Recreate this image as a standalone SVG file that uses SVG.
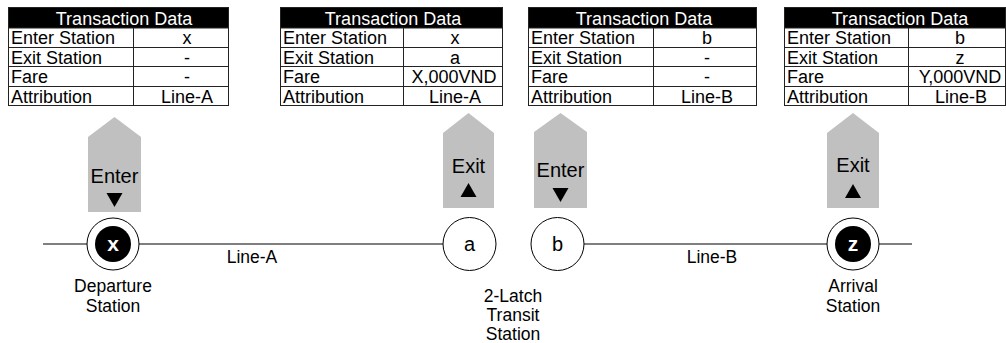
<svg xmlns="http://www.w3.org/2000/svg" width="1006" height="343" viewBox="0 0 1006 343">
  <style>
    text { font-family: "Liberation Sans", Arial, sans-serif; fill: #000; }
    .cell { fill: #fff; stroke: #222; stroke-width: 1; }
    .head { fill: #000; stroke: #222; stroke-width: 1; }
    .grid { stroke: #222; stroke-width: 1; }
    .th { font-size: 18px; fill: #fff; text-anchor: middle; }
    .tl { font-size: 18px; }
    .tv { font-size: 18px; text-anchor: middle; }
    .arrow { fill: #c0c0c0; }
    .alabel { font-size: 20px; text-anchor: middle; }
    .tri { fill: #000; }
    .track { stroke: #000; stroke-width: 1; fill: none; }
    .ring { fill: #fff; stroke: #000; stroke-width: 1; }
    .core { fill: #000; }
    .stn { font-size: 20px; text-anchor: middle; }
    .stn-w { font-size: 21px; text-anchor: middle; fill: #fff; font-weight: bold; }
    .lbl { font-size: 17.5px; text-anchor: middle; }
  </style>

  <!-- rail lines -->
  <g id="connectors">
    <line class="track" x1="43" y1="244" x2="444" y2="244"/>
    <line class="track" x1="584" y1="244" x2="912" y2="244"/>
  </g>

  <!-- transaction tables -->
  <g id="table-1">
    <rect class="cell" x="8.5" y="7.5" width="220" height="98"/>
    <rect class="head" x="8.5" y="7.5" width="220" height="20.5"/>
    <line class="grid" x1="8.5" y1="47.5" x2="228.5" y2="47.5"/>
    <line class="grid" x1="8.5" y1="66.5" x2="228.5" y2="66.5"/>
    <line class="grid" x1="8.5" y1="86.5" x2="228.5" y2="86.5"/>
    <line class="grid" x1="133.5" y1="28" x2="133.5" y2="105.5"/>
    <text class="th" x="124" y="25">Transaction Data</text>
    <text class="tl" x="11" y="44">Enter Station</text>
    <text class="tl" x="11" y="63.5">Exit Station</text>
    <text class="tl" x="11" y="83">Fare</text>
    <text class="tl" x="11" y="102.5">Attribution</text>
    <text class="tv" x="187" y="44">x</text>
    <text class="tv" x="187" y="63.5">-</text>
    <text class="tv" x="187" y="83">-</text>
    <text class="tv" x="187" y="102.5">Line-A</text>
  </g>

  <g id="table-2">
    <rect class="cell" x="280.5" y="7.5" width="222" height="98"/>
    <rect class="head" x="280.5" y="7.5" width="222" height="20.5"/>
    <line class="grid" x1="280.5" y1="47.5" x2="502.5" y2="47.5"/>
    <line class="grid" x1="280.5" y1="66.5" x2="502.5" y2="66.5"/>
    <line class="grid" x1="280.5" y1="86.5" x2="502.5" y2="86.5"/>
    <line class="grid" x1="403.5" y1="28" x2="403.5" y2="105.5"/>
    <text class="th" x="393" y="25">Transaction Data</text>
    <text class="tl" x="283" y="44">Enter Station</text>
    <text class="tl" x="283" y="63.5">Exit Station</text>
    <text class="tl" x="283" y="83">Fare</text>
    <text class="tl" x="283" y="102.5">Attribution</text>
    <text class="tv" x="455" y="44">x</text>
    <text class="tv" x="455" y="63.5">a</text>
    <text class="tv" x="454" y="83">X,000VND</text>
    <text class="tv" x="455" y="102.5">Line-A</text>
  </g>

  <g id="table-3">
    <rect class="cell" x="528.5" y="7.5" width="228" height="98"/>
    <rect class="head" x="528.5" y="7.5" width="228" height="20.5"/>
    <line class="grid" x1="528.5" y1="47.5" x2="756.5" y2="47.5"/>
    <line class="grid" x1="528.5" y1="66.5" x2="756.5" y2="66.5"/>
    <line class="grid" x1="528.5" y1="86.5" x2="756.5" y2="86.5"/>
    <line class="grid" x1="653.5" y1="28" x2="653.5" y2="105.5"/>
    <text class="th" x="644" y="25">Transaction Data</text>
    <text class="tl" x="531" y="44">Enter Station</text>
    <text class="tl" x="531" y="63.5">Exit Station</text>
    <text class="tl" x="531" y="83">Fare</text>
    <text class="tl" x="531" y="102.5">Attribution</text>
    <text class="tv" x="707" y="44">b</text>
    <text class="tv" x="707" y="63.5">-</text>
    <text class="tv" x="707" y="83">-</text>
    <text class="tv" x="707" y="102.5">Line-B</text>
  </g>

  <g id="table-4">
    <rect class="cell" x="784.5" y="7.5" width="221" height="98"/>
    <rect class="head" x="784.5" y="7.5" width="221" height="20.5"/>
    <line class="grid" x1="784.5" y1="47.5" x2="1005.5" y2="47.5"/>
    <line class="grid" x1="784.5" y1="66.5" x2="1005.5" y2="66.5"/>
    <line class="grid" x1="784.5" y1="86.5" x2="1005.5" y2="86.5"/>
    <line class="grid" x1="908.5" y1="28" x2="908.5" y2="105.5"/>
    <text class="th" x="900" y="25">Transaction Data</text>
    <text class="tl" x="787" y="44">Enter Station</text>
    <text class="tl" x="787" y="63.5">Exit Station</text>
    <text class="tl" x="787" y="83">Fare</text>
    <text class="tl" x="787" y="102.5">Attribution</text>
    <text class="tv" x="960" y="44">b</text>
    <text class="tv" x="960" y="63.5">z</text>
    <text class="tv" x="960" y="83">Y,000VND</text>
    <text class="tv" x="961" y="102.5">Line-B</text>
  </g>

  <!-- gate arrows -->
  <g id="gate-enter-x">
    <polygon class="arrow" points="88,137 114.5,117 141,137 141,212 88,212"/>
    <text class="alabel" x="114.5" y="183">Enter</text>
    <polygon class="tri" points="106.5,193 122.5,193 114.5,207"/>
  </g>
  <g id="gate-exit-a">
    <polygon class="arrow" points="443,133 468.5,113 494,133 494,208 443,208"/>
    <text class="alabel" x="468.5" y="173">Exit</text>
    <polygon class="tri" points="460.5,197 476.5,197 468.5,183"/>
  </g>
  <g id="gate-enter-b">
    <polygon class="arrow" points="534,132 560.5,113 587,132 587,208 534,208"/>
    <text class="alabel" x="560.5" y="177">Enter</text>
    <polygon class="tri" points="552.5,188 568.5,188 560.5,202"/>
  </g>
  <g id="gate-exit-z">
    <polygon class="arrow" points="827,133 853,113 879,133 879,208 827,208"/>
    <text class="alabel" x="853" y="172">Exit</text>
    <polygon class="tri" points="845,198 861,198 853,184"/>
  </g>

  <!-- stations -->
  <g id="station-x">
    <circle class="ring" cx="113" cy="244" r="26"/>
    <circle class="core" cx="113" cy="244" r="18"/>
    <text class="stn-w" x="113" y="251">x</text>
    <text class="lbl" x="113" y="292">Departure</text>
    <text class="lbl" x="113" y="312">Station</text>
  </g>
  <g id="station-a">
    <circle class="ring" cx="469.5" cy="244" r="26.5"/>
    <text class="stn" x="469.5" y="251">a</text>
  </g>
  <g id="station-b">
    <circle class="ring" cx="557.5" cy="244" r="26.5"/>
    <text class="stn" x="557.5" y="251">b</text>
  </g>
  <g id="station-z">
    <circle class="ring" cx="853" cy="244" r="26"/>
    <circle class="core" cx="853" cy="244" r="18"/>
    <text class="stn-w" x="853" y="251">z</text>
    <text class="lbl" x="853" y="292">Arrival</text>
    <text class="lbl" x="853" y="312">Station</text>
  </g>

  <!-- line and transfer labels -->
  <g id="labels">
    <text class="lbl" x="252" y="263">Line-A</text>
    <text class="lbl" x="712" y="263">Line-B</text>
    <text class="lbl" x="513" y="302">2-Latch</text>
    <text class="lbl" x="513" y="321">Transit</text>
    <text class="lbl" x="513" y="340">Station</text>
  </g>
</svg>
